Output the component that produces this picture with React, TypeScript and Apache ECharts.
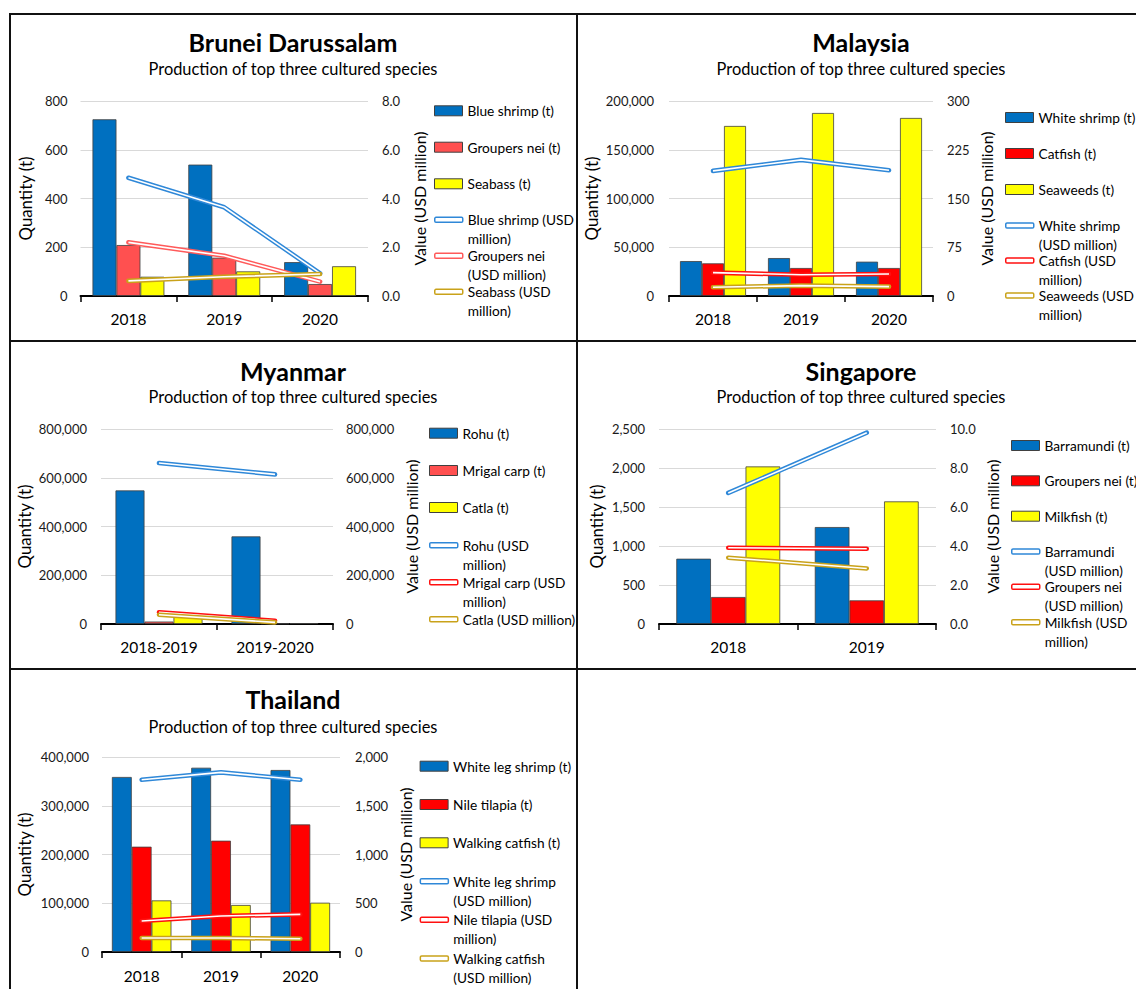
import React, { useEffect, useRef } from 'react';
import * as echarts from 'echarts';

const FONT = 'Lato, "Noto Sans", sans-serif';
const SUBTITLE = 'Production of top three cultured species';

// ---------- Brunei Darussalam ----------
const bruneiYears = ['2018', '2019', '2020'];
const bruneiBlueShrimpT = [725, 539, 139];
const bruneiGroupersT = [209, 157, 49];
const bruneiSeabassT = [79, 101, 122];
const bruneiBlueShrimpUSD = [4.85, 3.64, 0.93];
const bruneiGroupersUSD = [2.2, 1.65, 0.59];
const bruneiSeabassUSD = [0.62, 0.79, 0.9];

// ---------- Malaysia ----------
const malaysiaYears = ['2018', '2019', '2020'];
const malaysiaWhiteShrimpT = [35800, 38900, 35200];
const malaysiaCatfishT = [33500, 28700, 28700];
const malaysiaSeaweedsT = [174400, 187700, 182600];
const malaysiaWhiteShrimpUSD = [192.5, 209.4, 193.5];
const malaysiaCatfishUSD = [35.9, 32.8, 33.8];
const malaysiaSeaweedsUSD = [13.4, 16.0, 14.4];

// ---------- Myanmar ----------
const myanmarYears = ['2018-2019', '2019-2020'];
const myanmarRohuT = [548000, 359400];
const myanmarMrigalT = [10000, 2500];
const myanmarCatlaT = [33000, 3500];
const myanmarRohuUSD = [660500, 613700];
const myanmarMrigalUSD = [47600, 13500];
const myanmarCatlaUSD = [38000, 6600];

// ---------- Singapore ----------
const singaporeYears = ['2018', '2019'];
const singaporeBarramundiT = [837, 1243];
const singaporeGroupersT = [346, 303];
const singaporeMilkfishT = [2020, 1572];
const singaporeBarramundiUSD = [6.72, 9.81];
const singaporeGroupersUSD = [3.91, 3.86];
const singaporeMilkfishUSD = [3.4, 2.85];

// ---------- Thailand ----------
const thailandYears = ['2018', '2019', '2020'];
const thailandWhiteLegT = [359000, 378000, 373300];
const thailandTilapiaT = [216000, 228300, 261700];
const thailandWalkingCatfishT = [105800, 96400, 101100];
const thailandWhiteLegUSD = [1767, 1842, 1767];
const thailandTilapiaUSD = [318, 369, 386];
const thailandWalkingCatfishUSD = [143.6, 143.6, 136];

// ---------- colours ----------
const C_BLUE = '#0070C0';
const C_RED_LIGHT = '#FF5050';
const C_RED = '#FF0000';
const C_YELLOW = '#FFFF00';
const L_BLUE = '#2F88D8';
const L_RED_LIGHT = '#FF5A5A';
const L_RED = '#FF1010';
const L_GOLD = '#C9A21A';

const fmtComma = (v: number) => v.toLocaleString('en-US');
const fmtOne = (v: number) => v.toFixed(1);
const fmtPlain = (v: number) => String(v);

type BarS = { name: string; data: number[]; color: string };
type LineS = { name: string; label: string; data: number[]; color: string };
type Spec = {
  x0: number; y0: number; w: number; h: number;
  title: string; categories: string[];
  bars: BarS[]; lines: LineS[];
  leftMax: number; leftInterval: number; rightMax: number; rightInterval: number;
  leftFmt: (v: number) => string; rightFmt: (v: number) => string;
  gridLeft: number; gridWidth: number;
  leftNameGap: number; rightNameGap: number;
  leftLabelMargin: number; rightLabelMargin: number; catMargin: number;
  legendX: number; legendY: number[];
  titleTop: number; subTop: number;
};

const PANELS: Spec[] = [
  {
    x0: 9, y0: 13, w: 568, h: 328, title: 'Brunei Darussalam', categories: bruneiYears,
    bars: [
      { name: 'Blue shrimp (t)', data: bruneiBlueShrimpT, color: C_BLUE },
      { name: 'Groupers nei (t)', data: bruneiGroupersT, color: C_RED_LIGHT },
      { name: 'Seabass (t)', data: bruneiSeabassT, color: C_YELLOW },
    ],
    lines: [
      { name: 'Blue shrimp (USD million)', label: 'Blue shrimp (USD\nmillion)', data: bruneiBlueShrimpUSD, color: L_BLUE },
      { name: 'Groupers nei (USD million)', label: 'Groupers nei\n(USD million)', data: bruneiGroupersUSD, color: L_RED_LIGHT },
      { name: 'Seabass (USD million)', label: 'Seabass (USD\nmillion)', data: bruneiSeabassUSD, color: L_GOLD },
    ],
    leftMax: 800, leftInterval: 200, rightMax: 8, rightInterval: 2,
    leftFmt: fmtPlain, rightFmt: fmtOne,
    gridLeft: 68, gridWidth: 291, leftNameGap: 42, rightNameGap: 41,
    leftLabelMargin: 13, rightLabelMargin: 14, catMargin: 15,
    legendX: 425, legendY: [98.3, 134.7, 171.3, 207.3, 243.3, 279.3],
    titleTop: 16.5, subTop: 47.5,
  },
  {
    x0: 577, y0: 13, w: 568, h: 328, title: 'Malaysia', categories: malaysiaYears,
    bars: [
      { name: 'White shrimp (t)', data: malaysiaWhiteShrimpT, color: C_BLUE },
      { name: 'Catfish (t)', data: malaysiaCatfishT, color: C_RED },
      { name: 'Seaweeds (t)', data: malaysiaSeaweedsT, color: C_YELLOW },
    ],
    lines: [
      { name: 'White shrimp (USD million)', label: 'White shrimp\n(USD million)', data: malaysiaWhiteShrimpUSD, color: L_BLUE },
      { name: 'Catfish (USD million)', label: 'Catfish (USD\nmillion)', data: malaysiaCatfishUSD, color: L_RED },
      { name: 'Seaweeds (USD million)', label: 'Seaweeds (USD\nmillion)', data: malaysiaSeaweedsUSD, color: L_GOLD },
    ],
    leftMax: 200000, leftInterval: 50000, rightMax: 300, rightInterval: 75,
    leftFmt: fmtComma, rightFmt: fmtPlain,
    gridLeft: 92, gridWidth: 264, leftNameGap: 69.5, rightNameGap: 45,
    leftLabelMargin: 15, rightLabelMargin: 14, catMargin: 15,
    legendX: 428, legendY: [105, 141, 177, 213, 248, 283],
    titleTop: 16.5, subTop: 47.5,
  },
  {
    x0: 9, y0: 341, w: 568, h: 328, title: 'Myanmar', categories: myanmarYears,
    bars: [
      { name: 'Rohu (t)', data: myanmarRohuT, color: C_BLUE },
      { name: 'Mrigal carp (t)', data: myanmarMrigalT, color: C_RED_LIGHT },
      { name: 'Catla (t)', data: myanmarCatlaT, color: C_YELLOW },
    ],
    lines: [
      { name: 'Rohu (USD million)', label: 'Rohu (USD\nmillion)', data: myanmarRohuUSD, color: L_BLUE },
      { name: 'Mrigal carp (USD million)', label: 'Mrigal carp (USD\nmillion)', data: myanmarMrigalUSD, color: L_RED },
      { name: 'Catla (USD million)', label: 'Catla (USD million)', data: myanmarCatlaUSD, color: L_GOLD },
    ],
    leftMax: 800000, leftInterval: 200000, rightMax: 800000, rightInterval: 200000,
    leftFmt: fmtComma, rightFmt: fmtComma,
    gridLeft: 92, gridWidth: 232, leftNameGap: 68.5, rightNameGap: 70,
    leftLabelMargin: 14, rightLabelMargin: 13, catMargin: 15,
    legendX: 420, legendY: [92.7, 130, 167, 204.7, 241.7, 278.7],
    titleTop: 17, subTop: 47,
  },
  {
    x0: 577, y0: 341, w: 568, h: 328, title: 'Singapore', categories: singaporeYears,
    bars: [
      { name: 'Barramundi (t)', data: singaporeBarramundiT, color: C_BLUE },
      { name: 'Groupers nei (t)', data: singaporeGroupersT, color: C_RED },
      { name: 'Milkfish (t)', data: singaporeMilkfishT, color: C_YELLOW },
    ],
    lines: [
      { name: 'Barramundi (USD million)', label: 'Barramundi\n(USD million)', data: singaporeBarramundiUSD, color: L_BLUE },
      { name: 'Groupers nei (USD million)', label: 'Groupers nei\n(USD million)', data: singaporeGroupersUSD, color: L_RED },
      { name: 'Milkfish (USD million)', label: 'Milkfish (USD\nmillion)', data: singaporeMilkfishUSD, color: L_GOLD },
    ],
    leftMax: 2500, leftInterval: 500, rightMax: 10, rightInterval: 2,
    leftFmt: fmtComma, rightFmt: fmtOne,
    gridLeft: 82, gridWidth: 277, leftNameGap: 54.5, rightNameGap: 48,
    leftLabelMargin: 14, rightLabelMargin: 14, catMargin: 15,
    legendX: 434, legendY: [105, 140.3, 175.7, 211, 246.3, 281.7],
    titleTop: 17, subTop: 47,
  },
  {
    x0: 9, y0: 669, w: 568, h: 320, title: 'Thailand', categories: thailandYears,
    bars: [
      { name: 'White leg shrimp (t)', data: thailandWhiteLegT, color: C_BLUE },
      { name: 'Nile tilapia (t)', data: thailandTilapiaT, color: C_RED },
      { name: 'Walking catfish (t)', data: thailandWalkingCatfishT, color: C_YELLOW },
    ],
    lines: [
      { name: 'White leg shrimp (USD million)', label: 'White leg shrimp\n(USD million)', data: thailandWhiteLegUSD, color: L_BLUE },
      { name: 'Nile tilapia (USD million)', label: 'Nile tilapia (USD\nmillion)', data: thailandTilapiaUSD, color: L_RED },
      { name: 'Walking catfish (USD million)', label: 'Walking catfish\n(USD million)', data: thailandWalkingCatfishUSD, color: L_GOLD },
    ],
    leftMax: 400000, leftInterval: 100000, rightMax: 2000, rightInterval: 500,
    leftFmt: fmtComma, rightFmt: fmtComma,
    gridLeft: 93, gridWidth: 238, leftNameGap: 69.5, rightNameGap: 57.5,
    leftLabelMargin: 13, rightLabelMargin: 15, catMargin: 16,
    legendX: 410.6, legendY: [97.7, 136, 174.3, 212.7, 251.3, 290],
    titleTop: 17, subTop: 49,
  },
];

const LINE_H = 19;
const LEG_OFF_1 = 10;
const LEG_OFF_3 = 10 + LINE_H;

function buildOption(p: Spec): any {
  const series: any[] = [];
  p.bars.forEach((b) =>
    series.push({
      type: 'bar', name: b.name, data: b.data, yAxisIndex: 0,
      barGap: '0%', barCategoryGap: '25%',
      itemStyle: { color: b.color, borderColor: '#404040', borderWidth: 0.8 },
    })
  );
  p.lines.forEach((l) => {
    series.push({
      type: 'line', name: l.name, data: l.data, yAxisIndex: 1,
      symbol: 'none', showSymbol: false, z: 3,
      itemStyle: { color: l.color },
      lineStyle: { color: l.color, width: 4.6, cap: 'round', join: 'round' },
    });
    series.push({
      type: 'line', name: l.name + ' ', data: l.data, yAxisIndex: 1,
      symbol: 'none', showSymbol: false, z: 3, silent: true,
      itemStyle: { color: '#ffffff' },
      lineStyle: { color: '#ffffff', width: 1.6, cap: 'butt', join: 'round' },
    });
  });

  const legendText = { fontFamily: FONT, fontSize: 13.7, color: '#000', lineHeight: LINE_H };
  const legends: any[] = [];
  p.bars.forEach((b, i) =>
    legends.push({
      data: [b.name], left: p.legendX, top: p.legendY[i] - LEG_OFF_1, padding: 0,
      orient: 'vertical', itemWidth: 28, itemHeight: 10, icon: 'rect', selectedMode: false,
      itemStyle: { color: b.color, borderColor: '#404040', borderWidth: 1 },
      textStyle: { ...legendText },
    })
  );
  p.lines.forEach((l, i) => {
    const two = l.label.indexOf('\n') >= 0;
    legends.push({
      data: [{ name: l.name, icon: 'roundRect', itemStyle: { color: '#ffffff', borderColor: l.color, borderWidth: 1.5 } }],
      left: p.legendX, top: p.legendY[3 + i] - (two ? LEG_OFF_3 : LEG_OFF_1), padding: 0,
      orient: 'vertical', itemWidth: 28, itemHeight: 5, selectedMode: false,
      formatter: () => (two ? '\n' + l.label : l.label),
      textStyle: { ...legendText },
    });
  });

  const tickLabel = { fontFamily: FONT, fontSize: 13, color: '#1a1a1a' };

  return {
    animation: false,
    backgroundColor: 'transparent',
    title: [
      { text: p.title, left: 'center', top: p.titleTop, padding: 0,
        textStyle: { fontFamily: FONT, fontSize: 25, fontWeight: 'bold', color: '#000' } },
      { text: SUBTITLE, left: 'center', top: p.subTop, padding: 0,
        textStyle: { fontFamily: FONT, fontSize: 16.4, fontWeight: 'normal', color: '#000' } },
    ],
    legend: legends,
    grid: { left: p.gridLeft, top: 88, width: p.gridWidth, height: 195, containLabel: false },
    xAxis: {
      type: 'category', data: p.categories,
      axisLine: { show: true, lineStyle: { color: '#000', width: 2 } },
      axisTick: { show: true, length: 6, interval: 0, lineStyle: { color: '#000', width: 1.5 } },
      axisLabel: { fontFamily: FONT, fontSize: 15.5, color: '#000', margin: p.catMargin, interval: 0 },
    },
    yAxis: [
      {
        type: 'value', min: 0, max: p.leftMax, interval: p.leftInterval, position: 'left',
        name: 'Quantity (t)', nameLocation: 'middle', nameRotate: 90, nameGap: p.leftNameGap - 0.4,
        nameTextStyle: { fontFamily: FONT, fontSize: 16.8, color: '#000' },
        axisLine: { show: false }, axisTick: { show: false },
        axisLabel: { ...tickLabel, margin: p.leftLabelMargin, formatter: p.leftFmt },
        splitLine: { show: true, lineStyle: { color: '#D9D9D9', width: 1 } },
      },
      {
        type: 'value', min: 0, max: p.rightMax, interval: p.rightInterval, position: 'right',
        name: 'Value (USD million)', nameLocation: 'middle', nameRotate: 90, nameGap: p.rightNameGap,
        nameTextStyle: { fontFamily: FONT, fontSize: 16, color: '#000' },
        axisLine: { show: false }, axisTick: { show: false },
        axisLabel: { ...tickLabel, margin: p.rightLabelMargin, formatter: p.rightFmt },
        splitLine: { show: false },
      },
    ],
    series,
  };
}

function ChartPanel({ spec }: { spec: Spec }) {
  const ref = useRef<HTMLDivElement>(null);
  useEffect(() => {
    if (!ref.current) return;
    const chart = echarts.init(ref.current, undefined, { renderer: 'svg' });
    chart.setOption(buildOption(spec));
    return () => chart.dispose();
  }, [spec]);
  return (
    <div
      ref={ref}
      style={{ position: 'absolute', left: spec.x0, top: spec.y0, width: spec.w, height: spec.h }}
    />
  );
}

const lineStyle = (left: number, top: number, width: number, height: number): React.CSSProperties => ({
  position: 'absolute', left, top, width, height, background: '#111', pointerEvents: 'none',
});

export default function App() {
  return (
    <div
      style={{
        position: 'absolute', left: 0, top: 0, width: 1136, height: 989,
        overflow: 'hidden', background: '#fff',
      }}
    >
      {PANELS.map((p, i) => (
        <ChartPanel key={i} spec={p} />
      ))}
      <div style={lineStyle(9, 13, 1127, 2)} />
      <div style={lineStyle(9, 13, 2, 976)} />
      <div style={lineStyle(576, 13, 2, 976)} />
      <div style={lineStyle(9, 340, 1127, 2)} />
      <div style={lineStyle(9, 668, 1127, 2)} />
    </div>
  );
}
